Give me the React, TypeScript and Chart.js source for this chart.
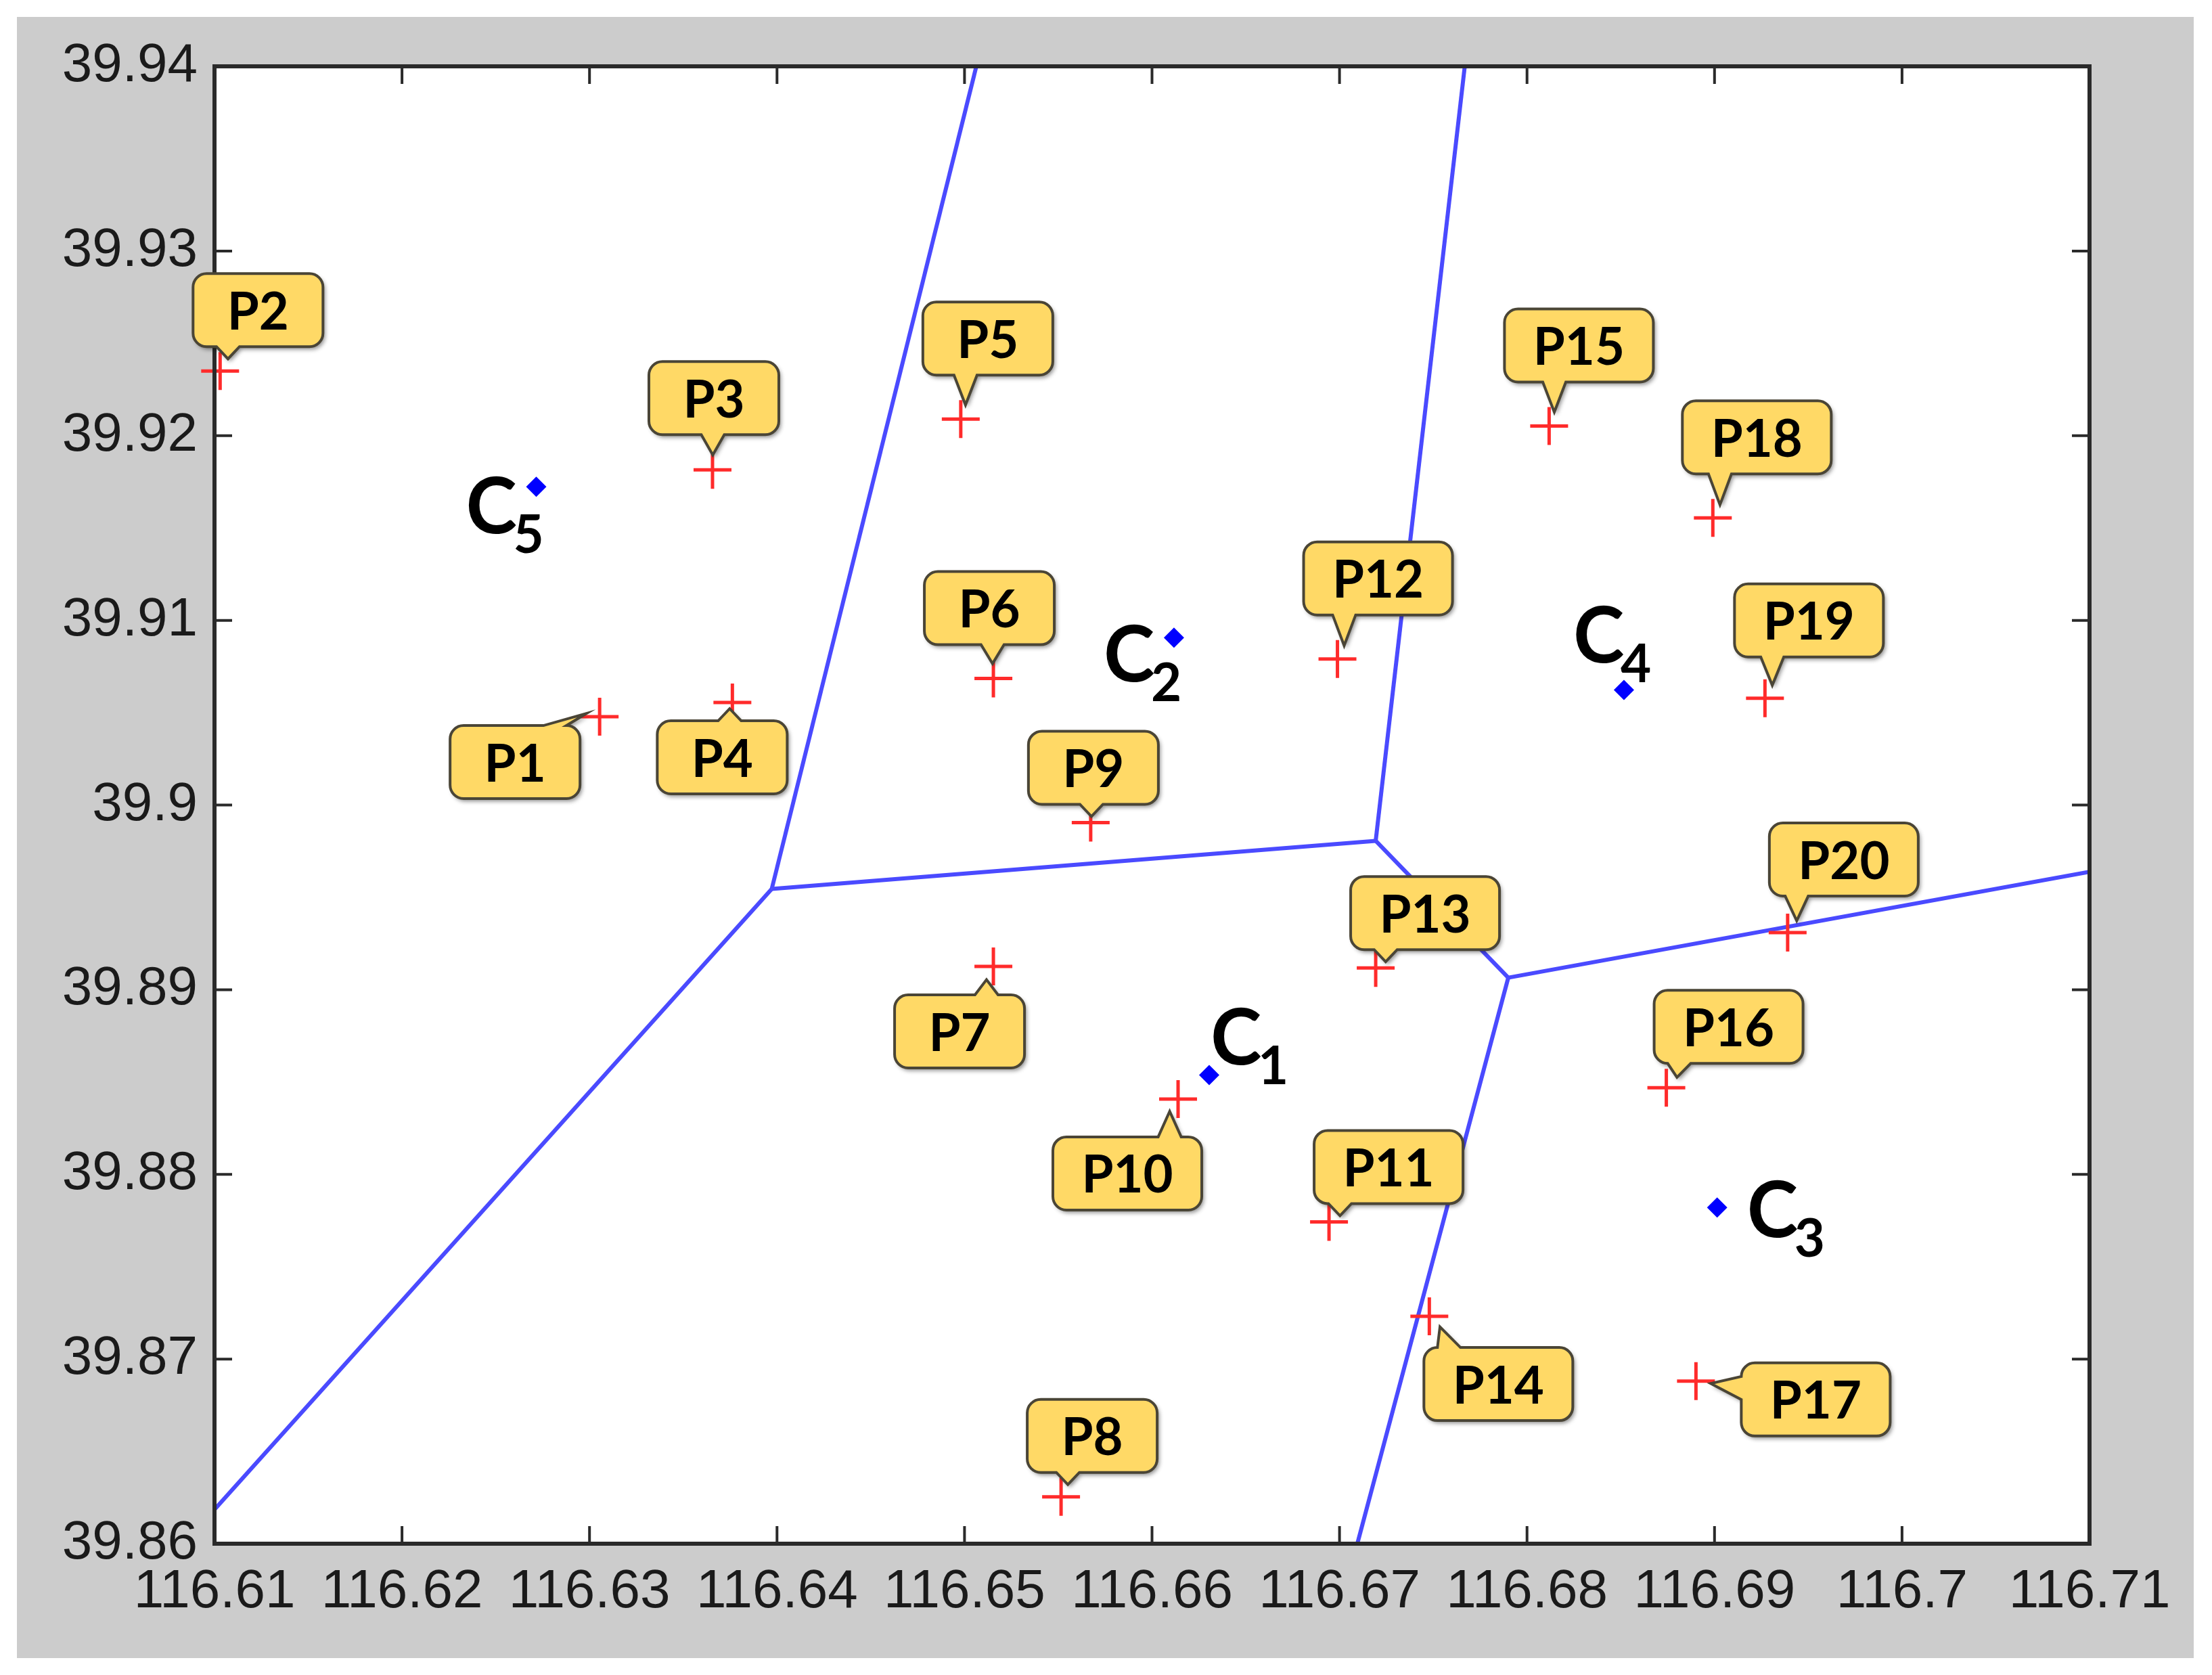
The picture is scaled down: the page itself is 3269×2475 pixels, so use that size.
import React, { useEffect, useRef } from 'react';
import { Chart, registerables } from 'chart.js';

Chart.register(...registerables);

// ---------------- data ----------------
const pointNames = ['P1', 'P2', 'P3', 'P4', 'P5', 'P6', 'P7', 'P8', 'P9', 'P10', 'P11', 'P12', 'P13', 'P14', 'P15', 'P16', 'P17', 'P18', 'P19', 'P20'];
const pointLon = [116.63054, 116.6103, 116.63656, 116.63762, 116.6498, 116.65154, 116.65154, 116.65515, 116.65673, 116.66139, 116.66944, 116.66989, 116.67193, 116.67479, 116.68118, 116.68743, 116.68901, 116.68991, 116.69269, 116.6939];
const pointLat = [39.90478, 39.9235, 39.91815, 39.90555, 39.9209, 39.90685, 39.89126, 39.86254, 39.89905, 39.88408, 39.87743, 39.90791, 39.89118, 39.87231, 39.92052, 39.88469, 39.8688, 39.91555, 39.90578, 39.89309];

const centroidIndex = ['1', '2', '3', '4', '5'];
const centroidLon = [116.66305, 116.66117, 116.69014, 116.68517, 116.62716];
const centroidLat = [39.88538, 39.90906, 39.8782, 39.90623, 39.91723];

// Voronoi edges (start -> end)
const edgeStartLon = [116.63972, 116.63972, 116.63972, 116.67193, 116.67193, 116.679, 116.679];
const edgeStartLat = [39.89546, 39.89546, 39.89546, 39.89806, 39.89806, 39.89065, 39.89065];
const edgeEndLon = [116.65063, 116.61, 116.67193, 116.67668, 116.679, 116.67095, 116.71];
const edgeEndLat = [39.94, 39.86185, 39.89806, 39.94, 39.89065, 39.86, 39.89638];

const xTickValues = [116.61, 116.62, 116.63, 116.64, 116.65, 116.66, 116.67, 116.68, 116.69, 116.7, 116.71];
const xTickLabels = ['116.61', '116.62', '116.63', '116.64', '116.65', '116.66', '116.67', '116.68', '116.69', '116.7', '116.71'];
const yTickValues = [39.86, 39.87, 39.88, 39.89, 39.9, 39.91, 39.92, 39.93, 39.94];
const yTickLabels = ['39.86', '39.87', '39.88', '39.89', '39.9', '39.91', '39.92', '39.93', '39.94'];

// ---------------- layout (pixel placement of annotations) ----------------
const calloutDX = [-125, 56, 2, -15, 40, -6, -50, 46, 4, -75, 88, 60, 73, 102, 44, 92, 177, 65, 65, 83];
const calloutDY = [67, -90, -106, 81, -119, -104, 96, -90, -81, 110, -81, -119, -81, 100, -119, -90, 27, -119, -115, -108];
const centroidLabelDX = [2, -104, 44, -75, -104];
const centroidLabelDY = [-15, 65, 44, -40, 69];

const W = 3269;
const H = 2475;
const AREA = { left: 317, top: 98, right: 3088, bottom: 2281 };

function clamp(v: number, a: number, b: number) {
  return Math.max(a, Math.min(b, v));
}

function calloutPath(ctx: CanvasRenderingContext2D, L: number, T: number, R: number, B: number, r: number, tail: any) {
  ctx.beginPath();
  ctx.moveTo(L + r, T);
  if (tail.edge === 'top') {
    ctx.lineTo(tail.c - tail.hw, T);
    ctx.lineTo(tail.tx, tail.ty);
    ctx.lineTo(tail.c + tail.hw, T);
  }
  ctx.lineTo(R - r, T);
  ctx.arcTo(R, T, R, T + r, r);
  if (tail.edge === 'right') {
    ctx.lineTo(R, tail.c - tail.hw);
    ctx.lineTo(tail.tx, tail.ty);
    ctx.lineTo(R, tail.c + tail.hw);
  }
  ctx.lineTo(R, B - r);
  ctx.arcTo(R, B, R - r, B, r);
  if (tail.edge === 'bottom') {
    ctx.lineTo(tail.c + tail.hw, B);
    ctx.lineTo(tail.tx, tail.ty);
    ctx.lineTo(tail.c - tail.hw, B);
  }
  ctx.lineTo(L + r, B);
  ctx.arcTo(L, B, L, B - r, r);
  if (tail.edge === 'left') {
    ctx.lineTo(L, tail.c + tail.hw);
    ctx.lineTo(tail.tx, tail.ty);
    ctx.lineTo(L, tail.c - tail.hw);
  }
  ctx.lineTo(L, T + r);
  ctx.arcTo(L, T, L + r, T, r);
  ctx.closePath();
}

const backgroundPlugin = {
  id: 'bgPanel',
  beforeDraw(chart: any) {
    const ctx = chart.ctx as CanvasRenderingContext2D;
    const a = chart.chartArea;
    ctx.save();
    ctx.fillStyle = '#ffffff';
    ctx.fillRect(0, 0, chart.width, chart.height);
    ctx.fillStyle = '#cccccc';
    ctx.fillRect(25, 25, 3217, 2425);
    ctx.fillStyle = '#ffffff';
    ctx.fillRect(a.left, a.top, a.right - a.left, a.bottom - a.top);
    ctx.restore();
  },
};

const framePlugin = {
  id: 'frameTicks',
  afterDatasetsDraw(chart: any) {
    const ctx = chart.ctx as CanvasRenderingContext2D;
    const a = chart.chartArea;
    const xs = chart.scales.x;
    const ys = chart.scales.y;
    const tl = 26;
    ctx.save();
    ctx.strokeStyle = '#2a2a2a';
    ctx.lineWidth = 4;
    ctx.beginPath();
    xTickValues.forEach((v) => {
      const px = xs.getPixelForValue(v);
      ctx.moveTo(px, a.bottom);
      ctx.lineTo(px, a.bottom - tl);
      ctx.moveTo(px, a.top);
      ctx.lineTo(px, a.top + tl);
    });
    yTickValues.forEach((v) => {
      const py = ys.getPixelForValue(v);
      ctx.moveTo(a.left, py);
      ctx.lineTo(a.left + tl, py);
      ctx.moveTo(a.right, py);
      ctx.lineTo(a.right - tl, py);
    });
    ctx.stroke();
    ctx.lineWidth = 6;
    ctx.strokeRect(a.left, a.top, a.right - a.left, a.bottom - a.top);
    ctx.restore();
  },
};

const annotationPlugin = {
  id: 'callouts',
  afterDraw(chart: any) {
    const ctx = chart.ctx as CanvasRenderingContext2D;
    const xs = chart.scales.x;
    const ys = chart.scales.y;
    ctx.save();
    pointNames.forEach((name, i) => {
      const px = xs.getPixelForValue(pointLon[i]);
      const py = ys.getPixelForValue(pointLat[i]);
      const dx = calloutDX[i];
      const dy = calloutDY[i];
      const cx = px + dx;
      const cy = py + dy;
      const w = name.length > 2 ? 220 : 192;
      const h = 108;
      const L = cx - w / 2, R = cx + w / 2, T = cy - h / 2, B = cy + h / 2;
      const r = 20, hw = 17, gap = 22, minLen = 18;
      const d = Math.hypot(dx, dy);
      const tx = px + (dx / d) * gap;
      const ty = py + (dy / d) * gap;
      let tail: any;
      if (ty > B) {
        tail = { edge: 'bottom', c: clamp(tx, L + r + hw, R - r - hw), hw, tx, ty: Math.max(ty, B + minLen) };
      } else if (ty < T) {
        tail = { edge: 'top', c: clamp(tx, L + r + hw, R - r - hw), hw, tx, ty: Math.min(ty, T - minLen) };
      } else if (tx < L) {
        tail = { edge: 'left', c: clamp(ty, T + r + hw, B - r - hw), hw, tx: Math.min(tx, L - minLen), ty };
      } else {
        tail = { edge: 'right', c: clamp(ty, T + r + hw, B - r - hw), hw, tx: Math.max(tx, R + minLen), ty };
      }
      calloutPath(ctx, L, T, R, B, r, tail);
      ctx.shadowColor = 'rgba(0,0,0,0.45)';
      ctx.shadowBlur = 6;
      ctx.shadowOffsetX = 3;
      ctx.shadowOffsetY = 4;
      ctx.fillStyle = '#ffd966';
      ctx.fill();
      ctx.shadowColor = 'rgba(0,0,0,0)';
      ctx.shadowBlur = 0;
      ctx.shadowOffsetX = 0;
      ctx.shadowOffsetY = 0;
      ctx.lineWidth = 4;
      ctx.strokeStyle = '#4a4536';
      ctx.stroke();
      ctx.fillStyle = '#000000';
      ctx.font = 'bold 76px Lato';
      ctx.textAlign = 'center';
      ctx.textBaseline = 'middle';
      ctx.fillText(name, cx, cy + 4);
    });

    centroidIndex.forEach((idx, i) => {
      const px = xs.getPixelForValue(centroidLon[i]);
      const py = ys.getPixelForValue(centroidLat[i]);
      const lx = px + centroidLabelDX[i];
      const ly = py + centroidLabelDY[i];
      ctx.fillStyle = '#000000';
      ctx.textAlign = 'left';
      ctx.textBaseline = 'alphabetic';
      ctx.font = 'bold 114px Lato';
      ctx.fillText('C', lx, ly);
      ctx.font = 'bold 78px Lato';
      ctx.fillText(idx, lx + 70, ly + 29);
    });
    ctx.restore();
  },
};

export default function App() {
  const ref = useRef<HTMLCanvasElement | null>(null);

  useEffect(() => {
    const canvas = ref.current;
    if (!canvas) return;

    const edgeDatasets = edgeStartLon.map((_, i) => ({
      type: 'scatter' as const,
      label: 'edge' + i,
      data: [
        { x: edgeStartLon[i], y: edgeStartLat[i] },
        { x: edgeEndLon[i], y: edgeEndLat[i] },
      ],
      showLine: true,
      borderColor: '#4a4aff',
      borderWidth: 6,
      pointRadius: 0,
      fill: false,
      order: 3,
    }));

    const chart = new Chart(canvas, {
      type: 'scatter',
      data: {
        datasets: [
          ...edgeDatasets,
          {
            type: 'scatter' as const,
            label: 'points',
            data: pointLon.map((x, i) => ({ x, y: pointLat[i] })),
            pointStyle: 'cross',
            pointRadius: 28,
            pointBorderWidth: 5,
            borderColor: '#ff2b2b',
            backgroundColor: '#ff2b2b',
            clip: false as any,
            order: 2,
          },
          {
            type: 'scatter' as const,
            label: 'centroids',
            data: centroidLon.map((x, i) => ({ x, y: centroidLat[i] })),
            pointStyle: 'rectRot',
            pointRadius: 15,
            pointBorderWidth: 0,
            borderColor: '#0000ff',
            backgroundColor: '#0000ff',
            order: 1,
          },
        ] as any,
      },
      options: {
        responsive: false,
        animation: false,
        devicePixelRatio: 1,
        layout: { padding: { left: 0, top: AREA.top, right: W - AREA.right, bottom: 0 } },
        plugins: { legend: { display: false }, tooltip: { enabled: false }, title: { display: false } },
        events: [],
        scales: {
          x: {
            type: 'linear',
            min: 116.61,
            max: 116.71,
            grid: { display: false, drawTicks: false, tickLength: 0 },
            border: { display: false },
            afterBuildTicks: (scale: any) => {
              scale.ticks = xTickValues.map((v) => ({ value: v }));
            },
            afterFit: (scale: any) => {
              scale.height = H - AREA.bottom;
            },
            ticks: {
              autoSkip: false,
              maxRotation: 0,
              minRotation: 0,
              padding: 24,
              color: '#1a1a1a',
              font: { family: 'Liberation Sans', size: 80 },
              callback: (_v: any, i: number) => xTickLabels[i],
            },
          },
          y: {
            type: 'linear',
            min: 39.86,
            max: 39.94,
            grid: { display: false, drawTicks: false, tickLength: 0 },
            border: { display: false },
            afterBuildTicks: (scale: any) => {
              scale.ticks = yTickValues.map((v) => ({ value: v }));
            },
            afterFit: (scale: any) => {
              scale.width = AREA.left;
            },
            ticks: {
              autoSkip: false,
              padding: 25,
              color: '#1a1a1a',
              font: { family: 'Liberation Sans', size: 80 },
              callback: (_v: any, i: number) => yTickLabels[i],
            },
          },
        },
      } as any,
      plugins: [backgroundPlugin, framePlugin, annotationPlugin],
    });

    return () => {
      chart.destroy();
    };
  }, []);

  return (
    <div style={{ position: 'absolute', left: 0, top: 0, width: W, height: H, background: '#ffffff' }}>
      <canvas ref={ref} width={W} height={H} style={{ display: 'block', width: W, height: H }} />
    </div>
  );
}
